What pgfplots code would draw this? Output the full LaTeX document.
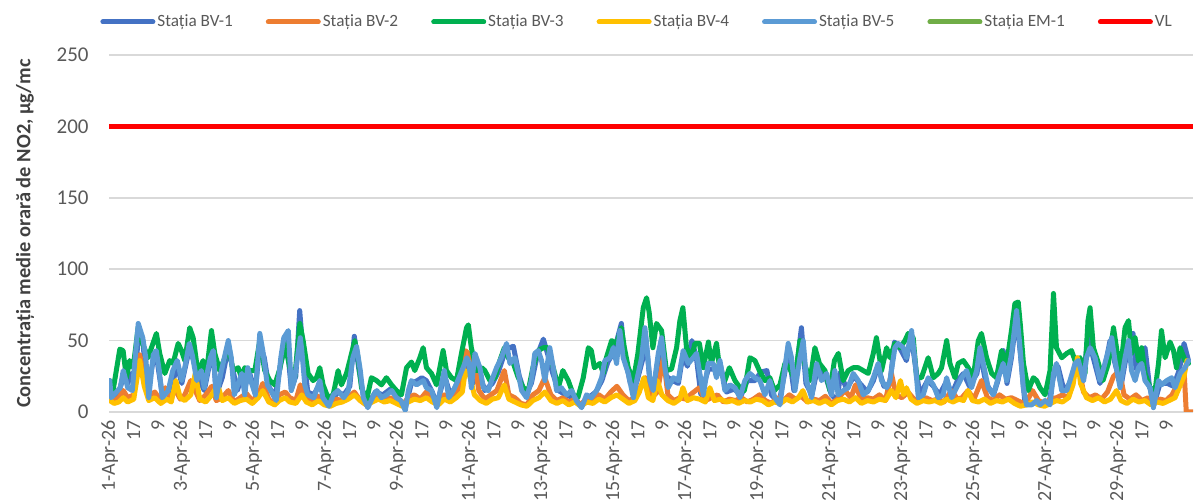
\documentclass[border=0pt]{standalone}
\usepackage{fontspec}
\setmainfont{Carlito}
\usepackage{pgfplots}
\pgfplotsset{compat=1.18}

\definecolor{bvone}{HTML}{4472C4}
\definecolor{bvtwo}{HTML}{ED7D31}
\definecolor{bvthree}{HTML}{00B050}
\definecolor{bvfour}{HTML}{FFC000}
\definecolor{bvfive}{HTML}{5B9BD5}
\definecolor{emone}{HTML}{70AD47}
\definecolor{vlred}{HTML}{FF0000}
\definecolor{gridc}{HTML}{D9D9D9}
\definecolor{tickc}{HTML}{595959}
\definecolor{titc}{HTML}{404040}

\begin{document}
\begin{tikzpicture}
\begin{axis}[
  scale only axis, width=542pt, height=178.5pt,
  xmin=-0.5, xmax=722, ymin=0, ymax=250,
  ytick={0,50,...,250},
  xtick={0,16,...,704},
  xticklabels={1-Apr-26,17,9,3-Apr-26,17,9,5-Apr-26,17,9,7-Apr-26,17,9,
    9-Apr-26,17,9,11-Apr-26,17,9,13-Apr-26,17,9,15-Apr-26,17,9,
    17-Apr-26,17,9,19-Apr-26,17,9,21-Apr-26,17,9,23-Apr-26,17,9,
    25-Apr-26,17,9,27-Apr-26,17,9,29-Apr-26,17,9},
  ymajorgrids, major grid style={gridc, line width=0.75pt},
  axis line style={draw=none},
  major tick length=0pt,
  tick label style={font=\fontsize{10.5}{12}\selectfont, text=tickc, inner sep=0pt},
  /pgf/number format/assume math mode=true,
  yticklabel style={xshift=-10pt},
  xticklabel style={rotate=90, anchor=east, xshift=-4pt, font=\fontsize{10}{12}\selectfont},
  every axis plot/.append style={line join=round, line cap=round, line width=2.5pt},
  legend columns=7,
  legend cell align=left,
  legend image code/.code={\draw[#1, line width=2.5pt, line cap=round] (1.25pt,0pt) -- (26.25pt,0pt);},
  legend style={at={(rel axis cs:0,1)}, anchor=west, xshift=-4.5pt, yshift=16.5pt,
    draw=none, inner sep=0pt, font=\fontsize{8.6}{10}\selectfont, text=tickc,
    nodes={inner sep=1pt},
    /tikz/every even column/.append style={column sep=15.5pt}},
]
\coordinate (ll) at (rel axis cs:0,0);
\coordinate (ur) at (rel axis cs:1,1);
\coordinate (ml) at (rel axis cs:0,0.5);

% Statia BV-1
\addplot[bvone] coordinates {
(0,18)(2,10)(6,14)(9,24)(12,20)(14.4,27)(17,20)(19,55)(22,50)(25,15)(29,36)(31,40)(35,12)(40,14)
(45,32)(48,20)(53,44)(56,36)(60,22)(63,15)(67,36)(69,40)(71,12)(75,24)(79,45)(82,30)(85,15)(88,24)
(90,17)(93,28)(97,14)(100,48)(103,38)(106,18)(110,10)(114,34)(118,50)(121,16)(124,25)(126.6,71)
(129,40)(132,14)(136,12)(140,20)(143,10)(147,6)(152,14)(156,12)(160,18)(163,53)(166,30)(169,12)
(172,5)(177,14)(182,12)(187,16)(192,10)(197,3)(201,20)(205,22)(208,24)(211,22)(215,14)(218,5)
(221,17)(223,26)(227,12)(232,20)(236,30)(239,32)(242,20)(246,28)(250,15)(255,20)(259,28)(264,44)
(269,46)(273,25)(277,12)(281,20)(285,40)(289,51)(292,40)(295,28)(299,15)(304,12)(309,10)(314,5)
(319,10)(324,14)(328,22)(332,35)(336,42)(341,62)(343,40)(347,20)(351,20)(355,36)(357,55)(360,22)
(363,15)(366,38)(368,48)(371,25)(375,22)(379,20)(382,40)(385,32)(388,50)(391,38)(394,12)(399,30)
(403,30)(407,33)(411,14)(416,16)(421,12)(425,22)(430,22)(434,28)(438,29)(441,12)(446,6)(450,28)
(452,45)(456,15)(461,59)(464,20)(468,12)(472,32)(477,25)(481,12)(485,8)(487,28)(491,16)(496,25)
(500,20)(505,14)(509,22)(512,32)(516,18)(520,20)(523,49)(527,44)(531,36)(534,55)(537,32)(540,12)
(545,22)(549,18)(553,12)(558,22)(561,12)(565,22)(569,27)(573,18)(578,27)(580,42)(584,20)(589,12)
(592,22)(595.5,43)(598,20)(601,38)(604.4,68)(607,40)(610,6)(615,6)(620,6)(626,6)(629,25)(632,32)
(636,15)(640,20)(645,33)(649,22)(652,55)(655,40)(660,20)(663,30)(666.7,50)(670,34)(674,18)(677,36)
(682,55)(684,30)(687,36)(690,45)(693,18)(696,5)(700,20)(705,20)(709,18)(713,30)(716,48)(719,36)
};
\addlegendentry{Stația BV-1}

% Statia BV-2
\addplot[bvtwo] coordinates {
(0,12)(3,8)(6,10)(9,15)(12,10)(16,12)(20,40)(23,25)(26,10)(30,14)(34,8)(37,17)(40,10)(44,15)(47,9)
(50,12)(54,22)(57,15)(60,8)(64,12)(68,18)(71,8)(75,10)(79,15)(83,7)(87,10)(91,13)(95,8)(99,12)
(102,20)(106,9)(110,5)(113,12)(117,14)(120,10)(124,8)(127,19)(131,9)(135,7)(139,11)(143,6)(147,5)
(151,9)(155,8)(159,10)(163,14)(167,8)(171,5)(175,9)(179,12)(183,8)(187,10)(191,7)(195,5)(199,10)
(203,12)(207,9)(211,14)(215,8)(219,6)(223,12)(227,8)(231,14)(235,20)(237,43)(240,40)(243,35)
(246,15)(250,9)(254,12)(258,15)(263,29)(266,12)(270,10)(274,6)(278,5)(282,12)(286,15)(290,24)
(294,12)(298,8)(302,10)(306,7)(310,9)(314,5)(318,10)(322,8)(326,12)(330,9)(334,14)(338,18)(342,12)
(346,8)(350,10)(354,18)(357,24)(361,10)(365,14)(369,38)(372,12)(376,8)(380,10)(384,9)(388,13)
(393,17)(397,8)(401,10)(405,12)(409,7)(413,9)(417,8)(421,10)(425,7)(429,9)(433,12)(437,8)(441,6)
(445,10)(449,8)(453,12)(457,9)(461,11)(465,7)(469,9)(473,8)(477,11)(481,6)(485,9)(490,15)(494,10)
(497,19)(501,8)(505,10)(509,9)(513,12)(517,8)(521,27)(524,12)(528,10)(532,14)(536,9)(540,7)(544,10)
(548,8)(552,9)(556,7)(561,15)(565,9)(568,10)(572,15)(576,9)(581,22)(585,10)(589,8)(593,12)(597,9)
(601,10)(605,8)(609,6)(612,9)(615,15)(619,8)(623,6)(627,9)(631,10)(635,12)(639,10)(642,24)(644,38)
(646,31)(649,14)(653,10)(657,12)(661,9)(665,14)(669,25)(673,29)(676,12)(680,9)(684,12)(688,8)
(692,10)(696,6)(700,9)(704,8)(708,12)(713,22)(716,30)(717.5,0)(722,0)
};
\addlegendentry{Stația BV-2}

% Statia BV-3
\addplot[bvthree] coordinates {
(0,22)(2.2,15)(6.7,44)(8.9,43)(11.1,24)(13.3,36)(15.6,31)(18.9,59)(21.1,50)(25.6,38)(27.8,45)
(31.1,55)(33.3,41)(36.7,27)(40,36)(42.2,34)(45.6,48)(47.8,43)(50,36)(53.3,59)(55.6,52)(58.9,27)
(62.2,36)(64.4,27)(67.8,57)(70,41)(73.3,29)(76.7,38)(78.9,48)(82.2,29)(85.6,31)(87.8,24)(90,31)
(93.3,29)(96.7,29)(100,50)(103.3,29)(106.7,22)(110,19)(113.3,30)(116.7,48)(120,31)(123.3,24)
(126.7,62)(128.9,50)(132.2,27)(135.5,22)(137.8,24)(140,31)(142.2,19)(145.5,10)(148.9,12)(152.2,29)
(154.4,19)(157.8,27)(160,36)(163.3,50)(165.5,38)(167.8,17)(171.1,8)(174.4,24)(177.8,22)(181.1,19)
(184.4,24)(187.8,19)(191.1,15)(194.4,12)(197.8,31)(201.1,35)(203.3,29)(206.7,38)(208.9,45)
(211.1,31)(214.4,27)(217.8,19)(222.2,43)(224.4,29)(227.8,24)(231.1,22)(234.4,41)(237.8,59)(239,61)
(241,45)(244.5,29)(248,31)(250,29)(253.4,22)(256.7,24)(260,36)(263,45)(265.6,38)(269,34)(272.3,24)
(275.6,17)(279,15)(282,31)(285.6,43)(289,45)(292,45)(295.6,31)(299,17)(302,29)(305.6,22)(309,12)
(312,10)(315.6,24)(319,45)(321,43)(323,31)(326.7,34)(329,27)(331,38)(334.5,50)(337.8,48)(341,59)
(343,45)(345.6,31)(349,22)(352,41)(355.6,73)(357.8,80)(359.5,70)(362,45)(364.4,62)(367.8,57)
(371,29)(374.4,30)(377.8,45)(380,64)(382,73)(384.4,45)(387.8,38)(390,48)(393,48)(395.6,31)(399,49)
(401,34)(404.4,48)(406.7,29)(410,22)(413,31)(416.7,22)(420,17)(423,15)(426.7,38)(430,36)(433,29)
(436.7,22)(440,24)(443,15)(446.7,19)(450,34)(453,31)(456.7,22)(460,50)(463,34)(466.7,22)(470,45)
(473,34)(476.7,29)(480,15)(483,36)(485.6,41)(488.9,22)(492.2,29)(495.5,31)(498.9,31)(502.2,29)
(505.5,27)(508.9,41)(511,52)(514.4,29)(517.8,45)(520,38)(523.3,48)(526.7,45)(530,50)(532.2,55)
(535.5,52)(537.8,24)(541,24)(545.5,38)(548.9,24)(552.2,27)(554.4,31)(557.8,50)(560,34)(563.3,24)
(565.5,34)(568.9,36)(572.2,31)(575.5,24)(578.9,50)(581,55)(584.4,38)(587.8,27)(591,24)(594.4,43)
(597.8,34)(601,57)(603.3,76)(605.5,77)(607,60)(609,34)(612.2,15)(615.6,24)(617.8,22)(620,17)
(623.4,12)(626.7,29)(629,83)(631,45)(634.5,38)(637.8,41)(641,43)(643.4,36)(646.7,38)(650,27)(652,64)
(653.4,73)(655.6,45)(659,34)(662,22)(665.6,34)(669,59)(671,45)(673.4,27)(676.7,59)(679,64)(681,41)
(683.4,52)(685.6,36)(687.8,45)(690,27)(693.4,17)(696.7,15)(699,34)(701,57)(703.4,38)(706.7,49)
(709,43)(711,31)(713.4,45)(716.7,36)(719,34)
};
\addlegendentry{Stația BV-3}

% Statia BV-4
\addplot[bvfour] coordinates {
(0,8)(3,6)(6,7)(9,10)(12,7)(16,9)(20,36)(23,18)(26,8)(30,10)(34,6)(38,9)(41,7)(44,22)(47,10)(50,8)
(54,12)(57,27)(60,9)(64,7)(68,12)(72,19)(75,8)(79,10)(83,6)(87,8)(91,9)(95,6)(99,10)(102,15)(106,7)
(110,5)(113,8)(117,10)(120,7)(124,6)(128,12)(131,7)(135,5)(139,8)(143,5)(147,4)(151,6)(155,7)(159,9)
(163,12)(167,8)(171,5)(175,7)(179,9)(183,7)(187,8)(191,6)(195,4)(199,7)(203,9)(207,8)(211,10)(215,7)
(219,5)(223,9)(227,7)(231,10)(235,14)(237,29)(240,25)(243,12)(247,8)(251,6)(255,9)(259,10)(263,19)
(266,9)(270,7)(274,5)(278,4)(282,8)(286,10)(290,14)(294,8)(298,6)(302,8)(306,5)(310,7)(314,4)(318,7)
(322,6)(326,9)(330,7)(334,10)(338,12)(342,9)(346,6)(350,8)(353,14)(356,24)(359,10)(362,8)(365,22)
(368,12)(372,8)(376,6)(380,9)(382,17)(385,8)(389,10)(393,9)(397,7)(400,17)(403,8)(407,9)(411,7)
(415,8)(419,6)(423,8)(427,7)(431,9)(435,8)(439,5)(443,7)(447,6)(451,9)(455,7)(459,10)(462,15)(465,7)
(469,8)(473,6)(477,8)(481,5)(485,8)(489,9)(493,7)(497,10)(501,6)(505,8)(509,7)(513,9)(517,8)(521,15)
(524,10)(527,22)(529,12)(531,17)(534,9)(538,6)(542,8)(546,7)(550,8)(554,6)(558,9)(562,7)(566,9)
(569,8)(572,15)(575,8)(579,7)(583,9)(587,6)(591,8)(595,7)(599,9)(603,6)(607,4)(611,5)(615,7)(619,5)
(623,4)(627,6)(631,8)(635,7)(639,10)(642,19)(645,38)(647,20)(651,10)(655,8)(659,10)(663,7)(667,9)
(671,15)(674,8)(678,6)(682,9)(686,7)(690,8)(694,5)(698,7)(702,6)(706,8)(710,10)(714,20)(716,25)(718,36)
};
\addlegendentry{Stația BV-4}

% Statia BV-5
\addplot[bvfive] coordinates {
(0,22)(1,10)(7,17)(9,29)(12,17)(15,15)(19,62)(22,52)(24,38)(26,10)(29,40)(31,43)(33,29)(35,10)(39,15)
(42,29)(45,36)(48,22)(50,31)(53,48)(55,40)(58,22)(61,29)(63,17)(67,38)(69,43)(71,10)(74,27)(79,50)
(81,38)(83,12)(88,27)(90,12)(92,31)(94,22)(97,12)(100,55)(102,43)(105,19)(109,12)(111,8)(114,38)
(116,52)(119,57)(120,38)(121,15)(123,22)(127,52)(128,43)(130,19)(132,12)(136,10)(140,22)(142,10)
(146,4)(149,12)(152,15)(156,10)(159,15)(162,38)(164.5,46)(167,29)(169,10)(172,3)(176,12)(178,15)
(181,10)(184.5,12)(188,15)(191,10)(194,8)(197,1)(199,15)(201,22)(204.5,19)(209,22)(211,17)(214.5,15)
(218,3)(221,19)(223,29)(226,10)(229,15)(232,22)(235.5,31)(238,38)(239.5,34)(241,17)(243.4,41)
(246.7,31)(249,17)(252.3,15)(254.5,22)(257.8,31)(261,38)(264.5,48)(266.7,34)(270,38)(272.3,27)
(274.5,15)(277.8,10)(281,22)(283.3,41)(285.6,43)(287.8,36)(290,22)(293.3,45)(295.6,31)(297.8,15)
(301,17)(304.5,12)(307.8,15)(311,8)(314.5,3)(317.8,12)(321,10)(324.5,15)(327.8,24)(330,36)(333.4,38)
(335.6,45)(337.8,34)(340,57)(342.2,38)(345.6,27)(349,10)(351.2,22)(354.5,38)(356.7,59)(358.5,40)
(360,22)(362.2,15)(365.6,41)(367.8,52)(370,31)(372.2,17)(375.6,24)(378.9,22)(382.2,43)(385.6,34)
(388.9,38)(391.1,41)(393.3,27)(395.6,12)(398.9,34)(402.2,34)(404.4,24)(406.7,36)(410,15)(413.3,19)
(416.7,17)(420,10)(423.3,22)(426.7,27)(430,24)(433.3,22)(436.7,12)(440,22)(443.3,10)(446.7,5)
(450,31)(452.2,48)(454.4,38)(456.7,15)(460,38)(462.2,50)(464.4,22)(467.8,10)(471.1,34)(474.4,22)
(477.8,27)(481.1,12)(483.3,29)(485.5,12)(488.9,15)(492.2,17)(495.5,27)(498.9,22)(502.2,12)(505.5,15)
(508.9,24)(512.2,34)(514.4,22)(517.8,17)(520,22)(523.3,45)(525.5,48)(528.9,45)(531.1,38)(534.4,57)
(536.7,36)(538.9,10)(542.2,12)(545.5,24)(548.9,19)(552.2,10)(555.5,12)(557.8,24)(561.1,10)(564.4,17)
(567.8,24)(571.1,29)(574.4,17)(577.8,29)(580,45)(582.2,34)(585.5,17)(588.9,12)(592.2,24)(595.5,34)
(597.8,22)(601.1,41)(604.4,71)(606.7,45)(608.9,17)(611,5)(614.5,5)(617.8,8)(620,5)(623.4,8)(626.7,5)
(629,27)(631,34)(634.5,15)(637.8,15)(640,22)(643.4,34)(645.6,36)(649,22)(651,38)(653.4,45)(656.7,38)
(660,22)(662,29)(665.6,43)(667.8,52)(670,36)(673.4,17)(676.7,38)(679,50)(681,29)(683.4,22)(685.6,31)
(687.8,34)(690,22)(693.4,17)(695.6,3)(699,22)(701,19)(704.5,22)(707.8,24)(710,17)(713.4,27)
(716.7,31)(719,36)
};
\addlegendentry{Stația BV-5}

\addlegendimage{emone}
\addlegendentry{Stația EM-1}

% valoare limita
\addplot[vlred, line width=2.5pt, line cap=butt] coordinates {(-0.5,200) (722,200)};
\addlegendentry{VL}
\end{axis}
\node[rotate=90, font=\bfseries\fontsize{10.2}{12}\selectfont, text=titc]
  at ([xshift=-42pt]ml) {Concentrația medie orară de NO2, µg/mc};
\pgfresetboundingbox
\useasboundingbox ([xshift=-54.5pt,yshift=-44pt]ll) rectangle ([xshift=1pt,yshift=27.5pt]ur);
\end{tikzpicture}
\end{document}
